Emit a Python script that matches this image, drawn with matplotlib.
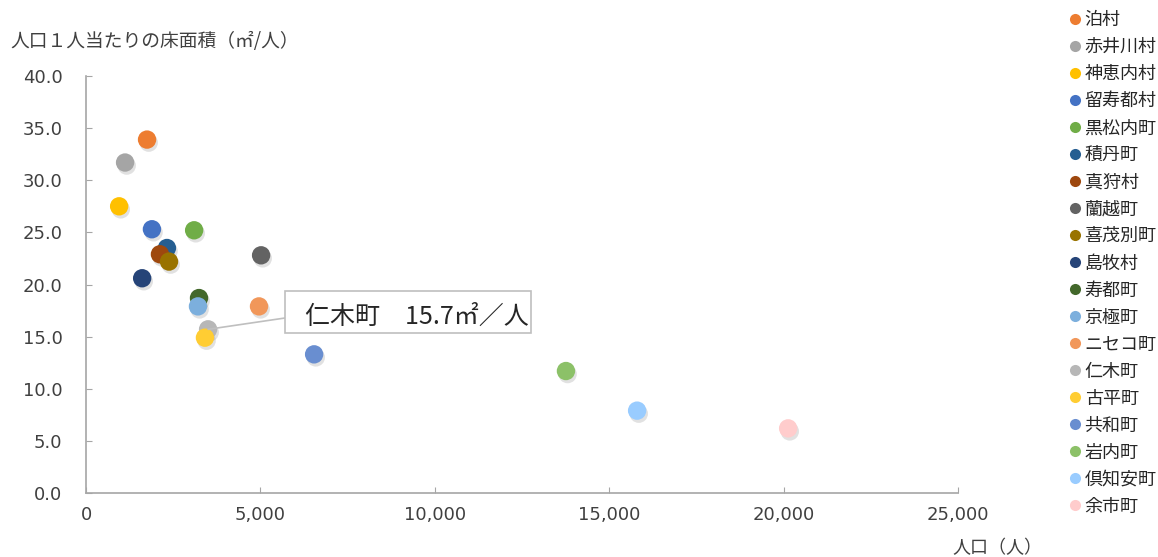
import matplotlib
matplotlib.use("Agg")
import matplotlib.pyplot as plt
import matplotlib.patheffects as pe
from matplotlib.lines import Line2D
from matplotlib.patches import Rectangle
from matplotlib.ticker import FuncFormatter

plt.rcParams['font.family'] = ['Noto Sans CJK JP', 'DejaVu Sans']
NUM_FONT = ['DejaVu Sans', 'Noto Sans CJK JP']

# データ（人口, 1人当たり床面積）
towns = ['泊村', '赤井川村', '神恵内村', '留寿都村', '黒松内町', '積丹町', '真狩村',
         '蘭越町', '喜茂別町', '島牧村', '寿都町', '京極町', 'ニセコ町', '仁木町',
         '古平町', '共和町', '岩内町', '倶知安町', '余市町']
population = [1750, 1120, 950, 1890, 3100, 2320, 2120, 5020, 2380, 1610,
              3240, 3210, 4960, 3500, 3410, 6540, 13760, 15800, 20130]
floor_area = [33.9, 31.7, 27.5, 25.3, 25.2, 23.5, 22.9, 22.8, 22.2, 20.6,
              18.7, 17.9, 17.9, 15.7, 14.9, 13.3, 11.7, 7.9, 6.2]
colors = ['#ED7D31', '#A5A5A5', '#FFC000', '#4472C4', '#70AD47', '#255E91',
          '#9E480E', '#636363', '#997300', '#264478', '#43682B', '#7CAFDD',
          '#F1975A', '#B7B7B7', '#FFCD33', '#698ED0', '#8CC168', '#99CCFF',
          '#FFCCCC']

W, H = 1158, 557
fig = plt.figure(figsize=(W / 100, H / 100), dpi=100)
ax = fig.add_axes([86 / W, 1 - 493 / H, (958 - 86) / W, (493 - 76) / H])

shadow = [pe.SimplePatchShadow(offset=(1.2, -2.2), shadow_rgbFace='#777777', alpha=0.22),
          pe.Normal()]
for name, x, y, c in zip(towns, population, floor_area, colors):
    ax.scatter([x], [y], s=175, color=c, edgecolors='none', label=name,
               path_effects=shadow, zorder=3)

ax.set_xlim(0, 25000)
ax.set_ylim(0, 40)
ax.set_xticks(range(0, 25001, 5000))
ax.set_yticks([i * 5 for i in range(9)])
ax.xaxis.set_major_formatter(FuncFormatter(lambda v, p: f'{int(v):,}'))
ax.yaxis.set_major_formatter(FuncFormatter(lambda v, p: f'{v:.1f}'))

for side in ['top', 'right']:
    ax.spines[side].set_visible(False)
for side in ['left', 'bottom']:
    ax.spines[side].set_color('#A6A6A6')
    ax.spines[side].set_linewidth(1.2)
ax.tick_params(axis='both', direction='in', length=4, color='#A6A6A6',
               labelsize=13, labelcolor='#404040')
ax.tick_params(axis='y', pad=17)
ax.tick_params(axis='x', pad=9)
for lbl in ax.get_xticklabels() + ax.get_yticklabels():
    lbl.set_family(NUM_FONT)

# 軸ラベル
fig.text(10 / W, 1 - 42 / H, '人口１人当たりの床面積（㎡/人）', fontsize=13.5,
         color='#404040', va='center', ha='left')
fig.text(997 / W, 1 - 548 / H, '人口（人）', fontsize=13, color='#404040',
         va='center', ha='center')

# 仁木町の吹き出し（枠・引き出し線・文字）
fig.add_artist(Rectangle((285 / W, 1 - 333 / H), (531 - 285) / W, (333 - 291) / H,
                         transform=fig.transFigure, fc='white', ec='#BFBFBF',
                         lw=1.2, zorder=5))
ax.annotate('', xy=(population[13], floor_area[13]),
            xytext=(285 / W, 1 - 318 / H), textcoords='figure fraction',
            arrowprops=dict(arrowstyle='-', color='#BFBFBF', lw=1.2,
                            shrinkA=0, shrinkB=0), zorder=4)
fig.text(305 / W, 1 - 317 / H, '仁木町　15.7㎡／人', fontsize=18, color='#262626',
         va='center', ha='left', zorder=6)

# 凡例
handles = [Line2D([], [], marker='o', linestyle='none', markersize=8,
                  markerfacecolor=c, markeredgecolor='none') for c in colors]
fig.legend(handles, towns, loc='upper left', bbox_to_anchor=(1062 / W, 1 - 4 / H),
           frameon=False, fontsize=13, labelspacing=0.5, handlelength=0.6,
           handletextpad=0.25, borderaxespad=0, labelcolor='#262626')

fig.savefig('out.png', dpi=100)
